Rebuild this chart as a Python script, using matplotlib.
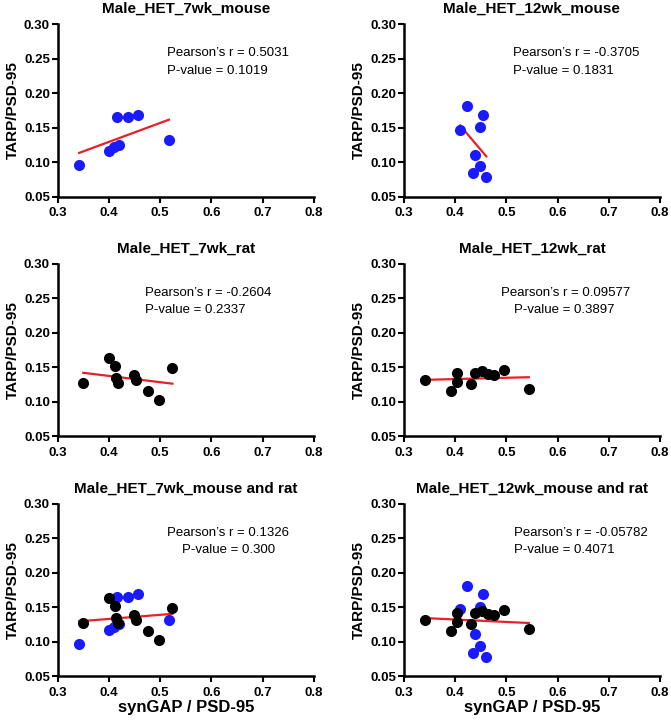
import numpy as np
import matplotlib
matplotlib.use("Agg")
import matplotlib.pyplot as plt

plt.rcParams["font.family"] = ["Liberation Sans", "DejaVu Sans"]

# Values
mouse_7wk_x = [0.342, 0.401, 0.410, 0.419, 0.415, 0.437, 0.457, 0.517]
mouse_7wk_y = [0.096, 0.117, 0.122, 0.125, 0.165, 0.165, 0.169, 0.132]

mouse_12wk_x = [0.424, 0.455, 0.448, 0.410, 0.440, 0.449, 0.435, 0.461]
mouse_12wk_y = [0.181, 0.169, 0.151, 0.147, 0.111, 0.094, 0.084, 0.078]

rat_7wk_x = [0.350, 0.400, 0.412, 0.414, 0.418, 0.449, 0.453, 0.476, 0.497, 0.524]
rat_7wk_y = [0.127, 0.163, 0.152, 0.134, 0.127, 0.138, 0.131, 0.115, 0.102, 0.149]

rat_12wk_x = [0.342, 0.392, 0.403, 0.404, 0.432, 0.440, 0.453, 0.465, 0.477, 0.496, 0.544]
rat_12wk_y = [0.132, 0.115, 0.128, 0.141, 0.126, 0.141, 0.144, 0.140, 0.138, 0.146, 0.118]

titles = ["Male_HET_7wk_mouse", "Male_HET_12wk_mouse",
          "Male_HET_7wk_rat", "Male_HET_12wk_rat",
          "Male_HET_7wk_mouse and rat", "Male_HET_12wk_mouse and rat"]
pearson_r = ["0.5031", "-0.3705", "-0.2604", "0.09577", "0.1326", "-0.05782"]
p_values = ["0.1019", "0.1831", "0.2337", "0.3897", "0.300", "0.4071"]

x_ticks = [0.3, 0.4, 0.5, 0.6, 0.7, 0.8]
y_ticks = [0.05, 0.10, 0.15, 0.20, 0.25, 0.30]

# (x of "Pearson" line, x of "P-value" line) in data units
text_x = [(0.513, 0.513), (0.513, 0.513), (0.470, 0.470),
          (0.489, 0.516), (0.514, 0.542), (0.516, 0.516)]

BLUE = "#1a1aff"
BLACK = "#000000"
RED = "#e8202a"

fig = plt.figure(figsize=(6.71, 7.23), dpi=100)
W, H = 671, 723
lefts = [57.6, 403.7]
tops = [24.3, 263.7, 503.7]
ax_w, ax_h = 256.4, 172.5


def add_panel(ax, groups, title, r, p, tx):
    all_x = np.concatenate([np.asarray(g[0]) for g in groups])
    all_y = np.concatenate([np.asarray(g[1]) for g in groups])
    slope, icpt = np.polyfit(all_x, all_y, 1)
    xs = np.array([all_x.min(), all_x.max()])
    ax.plot(xs, slope * xs + icpt, color=RED, lw=1.6, zorder=2)
    for gx, gy, col in groups:
        ax.plot(gx, gy, "o", color=col, ms=8, mec="none", zorder=3)

    ax.set_xlim(0.3, 0.8)
    ax.set_ylim(0.05, 0.30)
    ax.set_xticks(x_ticks)
    ax.set_xticklabels([f"{t:.1f}" for t in x_ticks])
    ax.set_yticks(y_ticks)
    ax.set_yticklabels([f"{t:.2f}" for t in y_ticks])
    for s in ["top", "right"]:
        ax.spines[s].set_visible(False)
    for s in ["left", "bottom"]:
        ax.spines[s].set_linewidth(1.8)
    ax.tick_params(width=1.5, length=4, labelsize=9.5)
    ax.tick_params(axis="y", pad=1.5)
    ax.tick_params(axis="x", pad=3.5)
    for lab in ax.get_xticklabels() + ax.get_yticklabels():
        lab.set_fontweight("bold")
    ax.set_title(title, fontsize=11, fontweight="bold", pad=8)
    ax.set_ylabel("TARP/PSD-95", fontsize=11, fontweight="bold", labelpad=3)
    ax.text(tx[0], 0.258, f"Pearson\u2019s r = {r}", fontsize=9.5, va="center")
    ax.text(tx[1], 0.2328, f"P-value = {p}", fontsize=9.5, va="center")


panel_groups = [
    [(mouse_7wk_x, mouse_7wk_y, BLUE)],
    [(mouse_12wk_x, mouse_12wk_y, BLUE)],
    [(rat_7wk_x, rat_7wk_y, BLACK)],
    [(rat_12wk_x, rat_12wk_y, BLACK)],
    [(mouse_7wk_x, mouse_7wk_y, BLUE), (rat_7wk_x, rat_7wk_y, BLACK)],
    [(mouse_12wk_x, mouse_12wk_y, BLUE), (rat_12wk_x, rat_12wk_y, BLACK)],
]

for i in range(6):
    row, col = divmod(i, 2)
    rect = [lefts[col] / W, 1 - (tops[row] + ax_h) / H, ax_w / W, ax_h / H]
    ax = fig.add_axes(rect)
    add_panel(ax, panel_groups[i], titles[i], pearson_r[i], p_values[i], text_x[i])
    if row == 2:
        ax.set_xlabel("synGAP / PSD-95", fontsize=12, fontweight="bold", labelpad=1)

fig.savefig("out.png", dpi=100)
